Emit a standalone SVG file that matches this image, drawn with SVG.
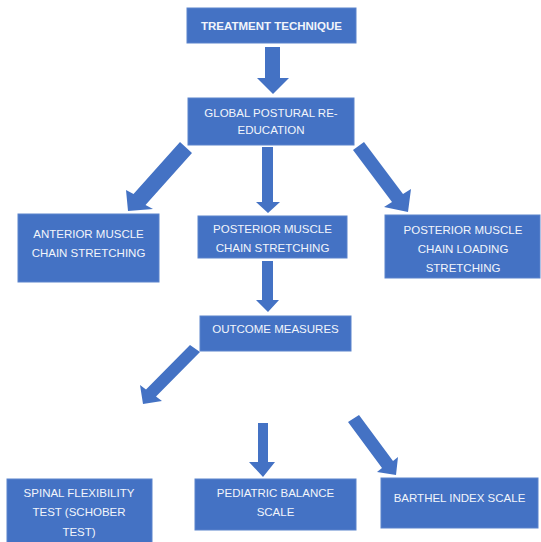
<svg xmlns="http://www.w3.org/2000/svg" width="541" height="542" viewBox="0 0 541 542">
<style>
.box{fill:#4472C4;stroke:#5a83cc;stroke-width:1}
.arrow{fill:#4472C4}
text{font-family:"Liberation Sans",Arial,sans-serif;font-size:11.5px;fill:#f2f5fb;text-anchor:middle}
.b{font-weight:bold}
</style>
<rect width="541" height="542" fill="#ffffff"/>
<g id="connectors">
<polygon class="arrow" points="265,47 280,47 280,78 289,78 273,94 257,78 265,78"/>
<polygon class="arrow" points="262,147 273,147 273,202 280,202 268,213 256,202 262,202"/>
<polygon class="arrow" points="180,142 192,153 145.5,205 153,209 128,211 126,190 133.5,194"/>
<polygon class="arrow" points="364,142 403,194 411,189 408,212 384,207 392,202 353,150"/>
<polygon class="arrow" points="262,261 273,261 273,300 279,300 268,312 256,300 262,300"/>
<polygon class="arrow" points="190,345 200,352 156,396.5 162,401 143,404 140,385 146,389.5"/>
<polygon class="arrow" points="258,423 268,423 268,462 275,462 263,477 249,462 258,462"/>
<polygon class="arrow" points="359,415 393,461 398,457 396,475 377,472 382,468 348,422"/>
</g>
<g id="treatment">
<rect class="box" x="187" y="8" width="169" height="35"/>
<text class="b" x="271.5" y="30">TREATMENT TECHNIQUE</text>
</g>
<g id="gpr">
<rect class="box" x="188" y="98" width="166" height="47"/>
<text x="271" y="117">GLOBAL POSTURAL RE-</text>
<text x="271" y="134">EDUCATION</text>
</g>
<g id="anterior">
<rect class="box" x="18" y="214" width="141" height="68"/>
<text x="88.5" y="238">ANTERIOR MUSCLE</text>
<text x="88.5" y="257">CHAIN STRETCHING</text>
</g>
<g id="posterior">
<rect class="box" x="198" y="216" width="149" height="42"/>
<text x="272.5" y="233">POSTERIOR MUSCLE</text>
<text x="272.5" y="252">CHAIN STRETCHING</text>
</g>
<g id="posterior-loading">
<rect class="box" x="385" y="215" width="155" height="63"/>
<text x="463" y="234">POSTERIOR MUSCLE</text>
<text x="463" y="253">CHAIN LOADING</text>
<text x="463" y="272">STRETCHING</text>
</g>
<g id="outcome">
<rect class="box" x="200" y="316" width="151" height="35"/>
<text x="275.5" y="333">OUTCOME MEASURES</text>
</g>
<g id="spinal">
<rect class="box" x="7" y="479" width="145" height="64"/>
<text x="79" y="497">SPINAL FLEXIBILITY</text>
<text x="79" y="516">TEST (SCHOBER</text>
<text x="79" y="536">TEST)</text>
</g>
<g id="pediatric">
<rect class="box" x="195" y="479" width="161" height="51"/>
<text x="275.5" y="497">PEDIATRIC BALANCE</text>
<text x="275.5" y="516">SCALE</text>
</g>
<g id="barthel">
<rect class="box" x="381" y="478" width="157" height="50"/>
<text x="459.5" y="502">BARTHEL INDEX SCALE</text>
</g>
</svg>
